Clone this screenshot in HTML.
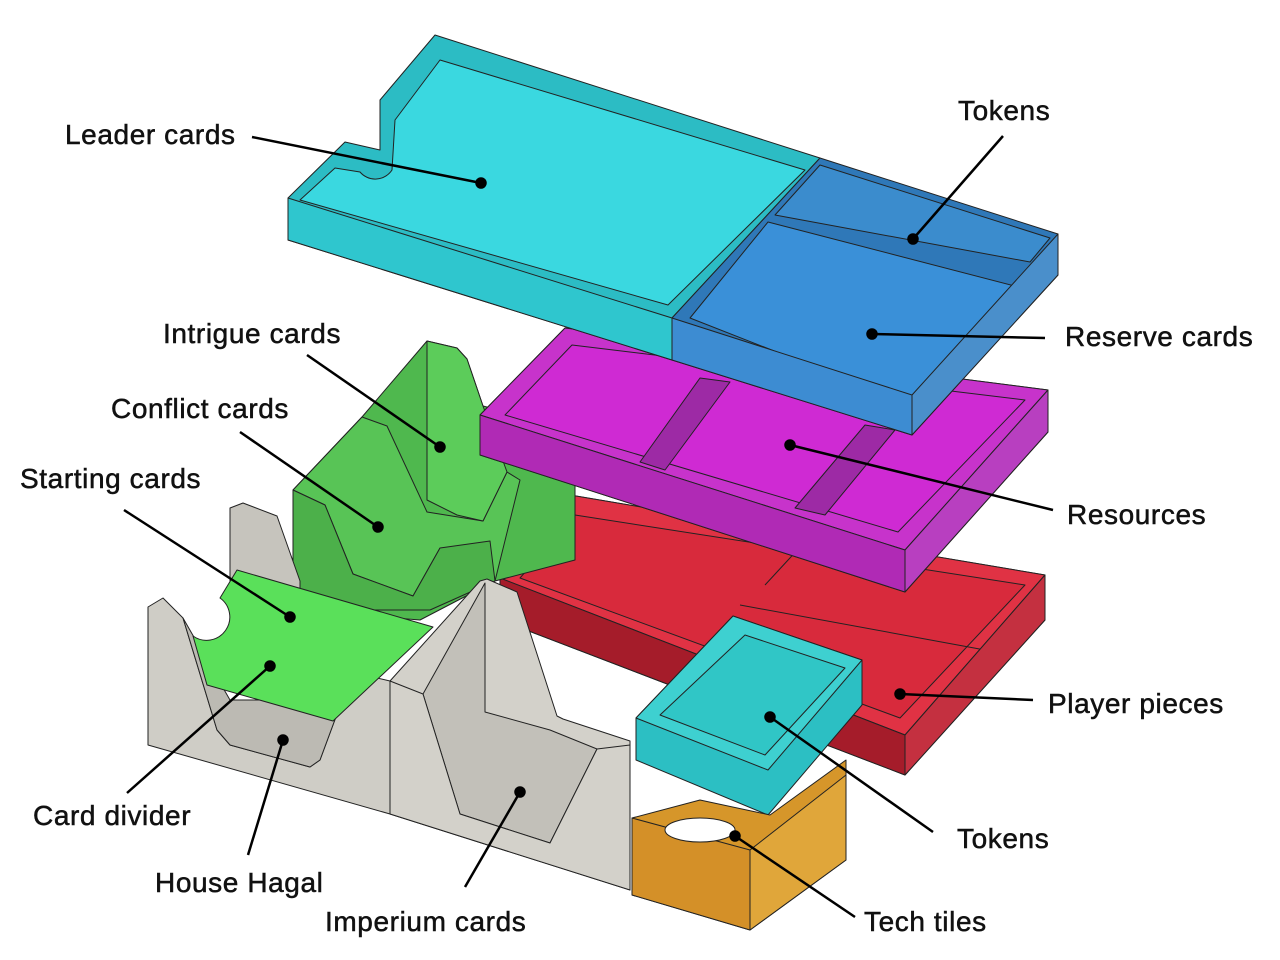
<!DOCTYPE html>
<html><head><meta charset="utf-8"><style>
html,body{margin:0;padding:0;background:#fff;}
svg{display:block;}
text{font-family:"Liberation Sans",sans-serif;font-size:28px;letter-spacing:0.6px;fill:#111;stroke:#111;stroke-width:0.5px;}
</style></head><body>
<svg width="1280" height="960" viewBox="0 0 1280 960" xmlns="http://www.w3.org/2000/svg">
<g stroke="#222" stroke-width="1" stroke-linejoin="round">
<!-- Red tray -->
<polygon points="500,578 570,495 1045,575 1045,620 905,775 500,620" fill="#b8202e"/>
<polygon points="500,578 570,495 1045,575 905,735" fill="#e03244"/>
<polygon points="520,578 575,515 1025,585 900,718" fill="#d82a3c"/>
<line x1="740" y1="605" x2="985" y2="650"/><line x1="765" y1="585" x2="825" y2="520"/>
<polygon points="905,735 1045,575 1045,620 905,775" fill="#c43040"/>
<polygon points="500,578 905,735 905,775 500,620" fill="#a51c2a"/>
<!-- Green holders -->
<polygon points="293,490 362,417 427,341 457,348 467,359 483,406 575,430 575,560 495,581 420,620 293,610" fill="#4fb84e"/>
<polygon points="362,417 387,426 427,512 483,521 507,472 520,480 495,581 440,548 413,596 353,574 325,505 293,490" fill="#58c456"/>
<polygon points="293,490 325,505 353,574 413,596 440,548 490,541 495,581 430,610 293,610" fill="#4cb04a"/>
<polygon points="427,341 427,500 457,515 483,521 507,472 483,406 467,359 457,348" fill="#5ccc5a"/>
<!-- Grey holders back pieces -->
<polygon points="230,508 243,503 277,516 300,581 300,640 230,640" fill="#c6c4bd"/>
<!-- Grey front -->
<polygon points="148,607 163,598 183,618 217,730 230,745 310,767 320,760 350,679 360,674 390,681 390,814 148,745" fill="#cfcdc6"/>
<polygon points="183,618 217,730 230,745 310,767 320,760 350,679 330,690 300,700 230,700" fill="#bcbab3"/>
<polygon points="390,681 480,581 487,579 517,592 557,716 563,719 630,741 630,890 390,814" fill="#d3d1ca"/>
<polygon points="423,694 485,583 485,712 550,730 597,749 550,843 460,814" fill="#c2c0b9"/>
<polygon points="423,694 460,814 550,843 597,749 630,745 630,890 390,814 390,681" fill="#d3d1ca"/>
<line x1="390" y1="681" x2="390" y2="814"/>
<!-- Green card -->
<path d="M237,570 L433,627 L333,721 L207,685 L193,636 A22,22 0 0 0 220,598 Z" fill="#5ae05a"/>
<!-- Magenta tray -->
<polygon points="480,415 565,328 1048,390 1048,432 905,592 480,455" fill="#a625ab"/>
<polygon points="480,415 565,328 1048,390 905,550" fill="#c733cb"/>
<polygon points="505,415 572,345 1025,400 898,532" fill="#cf2ad3"/>
<polygon points="640,462 700,378 730,382 665,470" fill="#9d2aa5"/>
<polygon points="795,508 865,425 895,430 825,515" fill="#9d2aa5"/>
<polygon points="905,550 1048,390 1048,432 905,592" fill="#b83fc0"/>
<polygon points="480,415 905,550 905,592 480,455" fill="#b02ab5"/>
<!-- Cyan tray -->
<polygon points="288,198 345,142 380,150 380,100 435,35 820,158 672,318 672,360 288,240" fill="#2cbcc4"/>
<path d="M300,200 L335,168 L360,172 A20,20 0 0 0 392,170 L395,120 L440,60 L805,170 L668,305 Z" fill="#3ad8e0"/>
<polygon points="288,198 672,318 672,360 288,240" fill="#2fc6ce"/>
<!-- Blue tray -->
<polygon points="820,158 1058,234 1058,275 912,435 672,360 672,318" fill="#2f78b8"/>
<polygon points="690,318 768,222 1030,290 990,335 940,370 912,405" fill="#3a90d8"/>
<polygon points="775,215 820,165 1050,238 1030,262" fill="#3b8ccd"/>
<polygon points="912,395 1058,234 1058,275 912,435" fill="#4a8fcb"/>
<polygon points="672,318 912,395 912,435 672,360" fill="#3d8cd2"/>
<!-- Small cyan tray -->
<polygon points="733,616 862,660 862,705 768,815 636,760 636,718" fill="#2cbfc3"/>
<polygon points="733,616 862,660 768,770 636,718" fill="#3ed0d0"/>
<polygon points="745,635 845,668 765,755 660,715" fill="#30c6c6"/>
<!-- Orange box -->
<polygon points="632,818 700,800 770,815 846,760 846,860 750,930 632,895" fill="#d6962a"/>
<polygon points="632,818 750,850 750,930 632,895" fill="#d49028"/>
<polygon points="750,850 846,775 846,860 750,930" fill="#e0a63a"/>
<ellipse cx="700" cy="830" rx="35" ry="12" fill="#fff"/>
</g>
<!-- Leader lines -->
<g stroke="#000" stroke-width="2.5" fill="#000">
<line x1="252" y1="137" x2="481" y2="183"/><circle cx="481" cy="183" r="4.5"/>
<line x1="1003" y1="136" x2="913" y2="239"/><circle cx="913" cy="239" r="4.5"/>
<line x1="1045" y1="338" x2="872" y2="334"/><circle cx="872" cy="334" r="4.5"/>
<line x1="307" y1="355" x2="440" y2="447"/><circle cx="440" cy="447" r="4.5"/>
<line x1="240" y1="432" x2="378" y2="527"/><circle cx="378" cy="527" r="4.5"/>
<line x1="124" y1="510" x2="290" y2="617"/><circle cx="290" cy="617" r="4.5"/>
<line x1="1053" y1="510" x2="790" y2="445"/><circle cx="790" cy="445" r="4.5"/>
<line x1="1033" y1="700" x2="900" y2="694"/><circle cx="900" cy="694" r="4.5"/>
<line x1="127" y1="793" x2="270" y2="666"/><circle cx="270" cy="666" r="4.5"/>
<line x1="248" y1="855" x2="283" y2="740"/><circle cx="283" cy="740" r="4.5"/>
<line x1="465" y1="887" x2="520" y2="792"/><circle cx="520" cy="792" r="4.5"/>
<line x1="933" y1="832" x2="770" y2="717"/><circle cx="770" cy="717" r="4.5"/>
<line x1="855" y1="917" x2="735" y2="836"/><circle cx="735" cy="836" r="4.5"/>
</g>
<text x="65" y="144">Leader cards</text>
<text x="958" y="120">Tokens</text>
<text x="1065" y="346">Reserve cards</text>
<text x="163" y="343">Intrigue cards</text>
<text x="111" y="418">Conflict cards</text>
<text x="20" y="488">Starting cards</text>
<text x="1067" y="524">Resources</text>
<text x="1048" y="713">Player pieces</text>
<text x="33" y="825">Card divider</text>
<text x="155" y="892">House Hagal</text>
<text x="325" y="931">Imperium cards</text>
<text x="957" y="848">Tokens</text>
<text x="864" y="931">Tech tiles</text>
</svg>
</body></html>
